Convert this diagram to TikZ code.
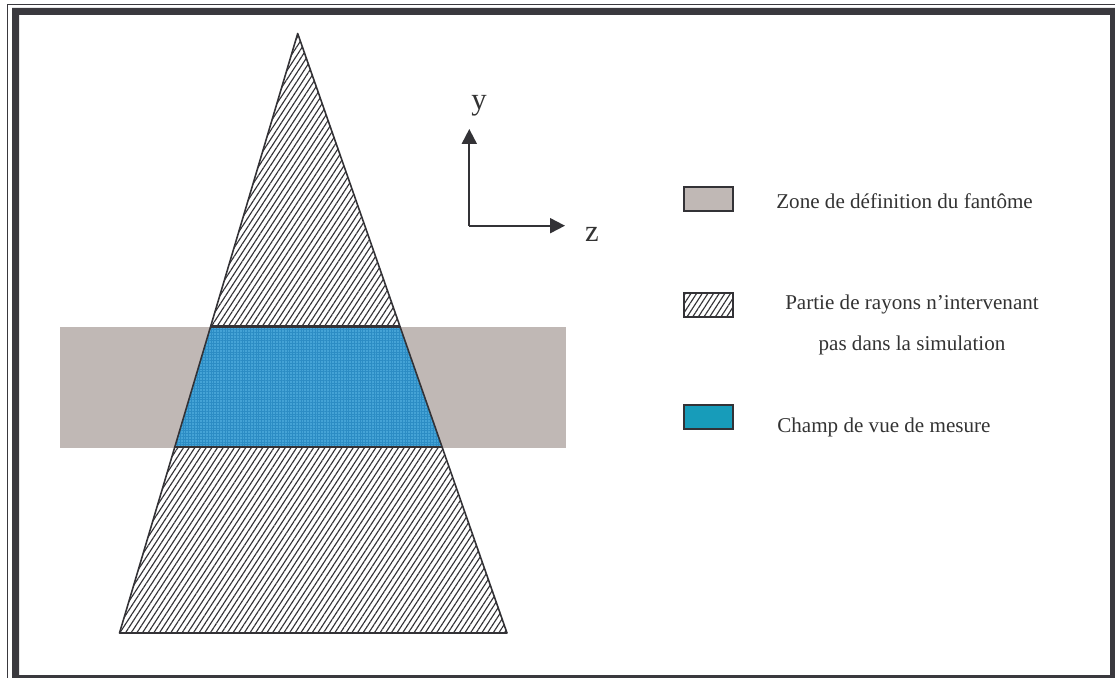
\documentclass[tikz,border=0pt]{standalone}
\usepackage{fontspec}
\setmainfont{Liberation Serif}
\usepackage{tikz}
\usetikzlibrary{arrows.meta, positioning, calc, patterns.meta}
\definecolor{frameDark}{HTML}{3A393E}
\definecolor{lineDark}{HTML}{333236}
\definecolor{phantomGray}{HTML}{C0B8B5}
\definecolor{fieldBlue}{HTML}{45A3D6}
\definecolor{fieldGrid}{HTML}{2C8CC4}
\definecolor{legendTeal}{HTML}{179CBA}
\definecolor{textDark}{HTML}{333333}

\begin{document}
\begin{tikzpicture}[
  x=0.02cm, y=-0.02cm,
  font=\fontsize{12}{14.4}\selectfont, text=textDark,
  hatched/.style={pattern={Lines[angle=57, distance=2.7pt, line width=0.65pt]},
                  pattern color=lineDark},
  field/.style={fill=fieldBlue, postaction={pattern={Hatch[angle=0, distance=1.6pt, line width=0.25pt]},
                pattern color=fieldGrid}},
  outline/.style={draw=lineDark, line width=0.9pt, line join=round},
  cut/.style={draw=lineDark, line width=1.4pt},
  axis/.style={-{Triangle[length=8.5pt, width=8.5pt]}, line width=1.1pt, draw=lineDark},
  axislabel/.style={font=\fontsize{17.5}{20}\selectfont, inner sep=0pt},
  legendbox/.style={draw=lineDark, line width=1.1pt, minimum width=0.98cm,
                    minimum height=0.48cm, inner sep=0pt},
  legendtext/.style={anchor=west, inner sep=0pt}
]
\useasboundingbox (0,0) rectangle (1115,678);

% frame
\fill[frameDark, even odd rule] (12,8) rectangle (1118,681) (19,15) rectangle (1110,675);
\draw[frameDark, line width=0.6pt] (7.5,681) -- (7.5,4.5) -- (1118,4.5);

% phantom band
\fill[phantomGray] (60,327) rectangle (566,448);

% ray cone
\coordinate (apex) at (297.7,33.5);
\coordinate (bl) at (119.5,633);
\coordinate (br) at (507,633);
\coordinate (tl) at ($(apex)!0.489!(bl)$);
\coordinate (tr) at ($(apex)!0.489!(br)$);
\coordinate (ml) at ($(apex)!0.690!(bl)$);
\coordinate (mr) at ($(apex)!0.690!(br)$);
\path[hatched] (apex) -- (bl) -- (br) -- cycle;
\path[field] (tl) -- (tr) -- (mr) -- (ml) -- cycle;
\draw[outline] (apex) -- (bl) -- (br) -- cycle;
\draw[cut] (tl) -- (tr);
\draw[cut] (ml) -- (mr);

% axes
\coordinate (O) at (469.3,225.7);
\coordinate (ytip) at (469.3,129);
\coordinate (ztip) at (565,225.7);
\draw[axis] (O) -- (ytip);
\draw[axis] (O) -- (ztip);
\node[axislabel] (ylab) at (479,106) {y};
\node[axislabel] (zlab) at (592,234) {z};

% legend
\node[legendbox, fill=phantomGray] (boxPhantom) at (708.5,199.3) {};
\node[legendbox, hatched] (boxRays) at (708.5,305) {};
\node[legendbox, fill=legendTeal] (boxField) at (708.5,417) {};
\node[legendtext] (txtPhantom) at (776,201) {Zone de définition du fantôme};
\node[align=center, inner sep=0pt] (txtRays) at (912,325)
  {Partie de rayons n’intervenant\\[9.4pt]pas dans la simulation};
\node[legendtext] (txtField) at (777,427) {Champ de vue de mesure};

\end{tikzpicture}
\end{document}
